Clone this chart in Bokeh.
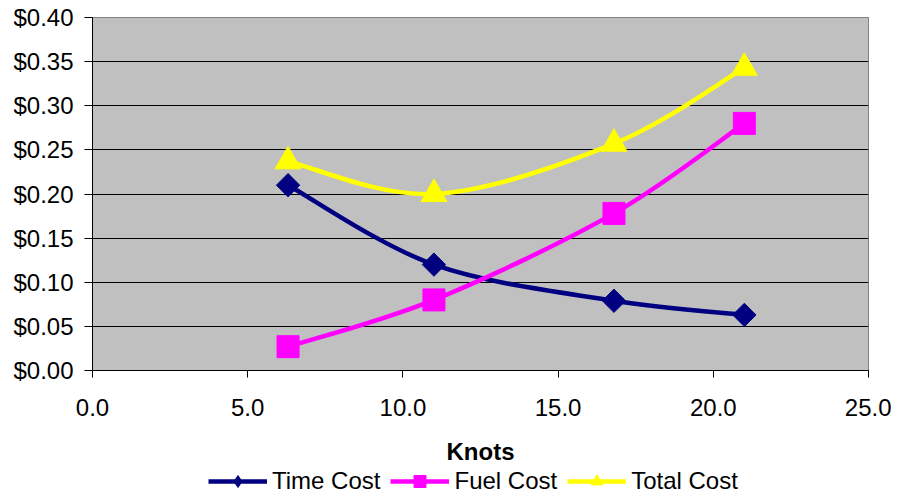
import numpy as np
from bokeh.plotting import figure
from bokeh.layouts import column
from bokeh.models import (Range1d, FixedTicker, NumeralTickFormatter, Legend, LegendItem,
                          ColumnDataSource, Label)
from bokeh.embed import file_html
from bokeh.resources import INLINE

knots = [6.3, 11.0, 16.8, 21.0]
time_cost = [0.210, 0.120, 0.079, 0.063]
fuel_cost = [0.027, 0.080, 0.178, 0.280]
total_cost = [0.237, 0.200, 0.257, 0.343]
x_ticks = [0, 5, 10, 15, 20, 25]
y_ticks = [0.0, 0.05, 0.10, 0.15, 0.20, 0.25, 0.30, 0.35, 0.40]
x_title = "Knots"

FONT = "Liberation Sans"
W = 891
FL, FW = 92, 776          # frame left / width (px)
FR = W - FL - FW

def smooth_segments(xs, ys):
    # Bezier control points (Catmull-Rom style, as a smoothed line)
    xs = np.asarray(xs, float); ys = np.asarray(ys, float)
    n = len(xs)
    x0, y0, x1, y1, cx0, cy0, cx1, cy1 = [], [], [], [], [], [], [], []
    for i in range(n - 1):
        p0 = max(i - 1, 0); p3 = min(i + 2, n - 1)
        x0.append(xs[i]); y0.append(ys[i]); x1.append(xs[i + 1]); y1.append(ys[i + 1])
        cx0.append(xs[i] + (xs[i + 1] - xs[p0]) / 6.0)
        cy0.append(ys[i] + (ys[i + 1] - ys[p0]) / 6.0)
        cx1.append(xs[i + 1] - (xs[p3] - xs[i]) / 6.0)
        cy1.append(ys[i + 1] - (ys[p3] - ys[i]) / 6.0)
    return ColumnDataSource(dict(x0=x0, y0=y0, x1=x1, y1=y1, cx0=cx0, cy0=cy0, cx1=cx1, cy1=cy1))

# ---- main chart ----
H1 = 432
p = figure(width=W, height=H1, output_backend="svg", toolbar_location=None,
           x_range=Range1d(0, 25), y_range=Range1d(0, 0.40),
           min_border_left=FL, min_border_right=FR, min_border_top=17,
           min_border_bottom=H1 - 17 - 353)
p.background_fill_color = "#C0C0C0"
p.border_fill_color = "white"
p.outline_line_color = "#808080"
p.outline_line_width = 1

p.xgrid.grid_line_color = None
p.ygrid.grid_line_color = "#000000"
p.ygrid.grid_line_width = 1
p.ygrid.ticker = FixedTicker(ticks=y_ticks)

p.xaxis.ticker = FixedTicker(ticks=x_ticks)
p.yaxis.ticker = FixedTicker(ticks=y_ticks)
p.xaxis.formatter = NumeralTickFormatter(format="0.0")
p.yaxis.formatter = NumeralTickFormatter(format="$0.00")
for ax in (p.xaxis[0], p.yaxis[0]):
    ax.axis_line_color = "black"
    ax.axis_line_width = 1
    ax.major_tick_line_color = "black"
    ax.major_tick_in = 0
    ax.minor_tick_line_color = None
    ax.major_label_text_font = FONT
    ax.major_label_text_font_size = "24px"
    ax.major_label_text_color = "black"
p.yaxis.major_tick_out = 8
p.yaxis.major_label_standoff = 11
p.xaxis.major_tick_out = 7
p.xaxis.major_label_standoff = 21

series = [
    (time_cost, "#000080", "Time Cost", "diamond"),
    (fuel_cost, "#FF00FF", "Fuel Cost", "square"),
    (total_cost, "#FFFF00", "Total Cost", "triangle"),
]
for vals, color, name, kind in series:
    src = smooth_segments(knots, vals)
    p.bezier(x0="x0", y0="y0", x1="x1", y1="y1", cx0="cx0", cy0="cy0", cx1="cx1", cy1="cy1",
             source=src, line_color=color, line_width=4.5)
    if kind == "diamond":
        p.scatter(knots, vals, marker="square", size=16.5, angle=np.pi / 4,
                  fill_color=color, line_color=color)
    elif kind == "square":
        p.scatter(knots, vals, marker="square", size=22, fill_color=color, line_color=color)
    else:
        p.scatter(knots, vals, marker="triangle", size=26, fill_color=color, line_color=color)

# ---- strip below: axis title + legend ----
H2 = 64
p2 = figure(width=W, height=H2, output_backend="svg", toolbar_location=None,
            x_range=Range1d(0, FW), y_range=Range1d(H2, 0),
            x_axis_type=None, y_axis_type=None,
            min_border_left=FL, min_border_right=FR, min_border_top=0, min_border_bottom=0)
p2.background_fill_color = "white"
p2.border_fill_color = "white"
p2.outline_line_color = None
p2.xgrid.grid_line_color = None
p2.ygrid.grid_line_color = None

p2.add_layout(Label(x=FW / 2, y=451 - H1, text=x_title, text_align="center",
                    text_baseline="middle", text_font=FONT, text_font_size="24px",
                    text_font_style="bold", text_color="black"))

items = []
for vals, color, name, kind in series:
    # hidden proxy renderers: only used to draw the legend swatches
    rl = p2.line(knots, vals, line_color=color, line_width=4.5, visible=False)
    rm = p2.scatter(knots, vals, marker=kind, fill_color=color, line_color=color, visible=False)
    items.append(LegendItem(label=name, renderers=[rl, rm]))

legend = Legend(items=items, orientation="horizontal", location=(208 - FL, 0),
                glyph_width=59, glyph_height=30, label_standoff=5, spacing=10,
                padding=0, margin=0, border_line_alpha=0, background_fill_alpha=0,
                label_text_font=FONT, label_text_font_size="24px", label_text_color="black")
p2.add_layout(legend, "center")

layout = column(p, p2, spacing=0)
open("out.html", "w").write(file_html(layout, INLINE))
